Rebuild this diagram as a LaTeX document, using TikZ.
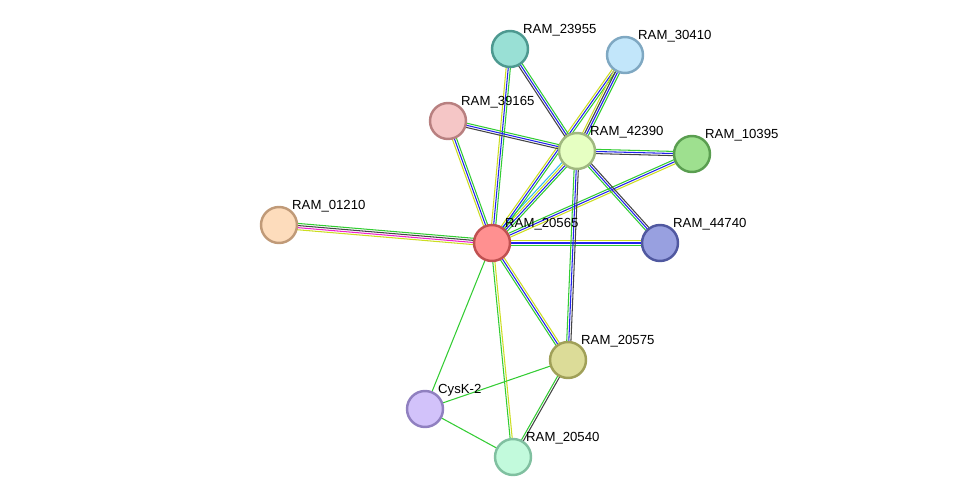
\documentclass[tikz,border=0pt]{standalone}
\usepackage{fontspec}
\setmainfont{Liberation Sans}
\usetikzlibrary{calc,backgrounds}

\definecolor{eGreen}{HTML}{33CC33}
\definecolor{eBlue}{HTML}{2222EE}
\definecolor{eYellow}{HTML}{CCDD22}
\definecolor{eBlack}{HTML}{444444}
\definecolor{eMagenta}{HTML}{EE22CC}
\definecolor{eCyan}{HTML}{33BBEE}
% node fills and borders
\definecolor{f23955}{HTML}{99E0D5}\definecolor{d23955}{HTML}{4D9990}
\definecolor{f30410}{HTML}{C2E6FA}\definecolor{d30410}{HTML}{7FA8C2}
\definecolor{f39165}{HTML}{F5C6C6}\definecolor{d39165}{HTML}{B88080}
\definecolor{f42390}{HTML}{E6FFC2}\definecolor{d42390}{HTML}{A0B880}
\definecolor{f10395}{HTML}{9EE08F}\definecolor{d10395}{HTML}{5A9E50}
\definecolor{f01210}{HTML}{FDDCBC}\definecolor{d01210}{HTML}{C09A78}
\definecolor{f20565}{HTML}{FF9090}\definecolor{d20565}{HTML}{C05050}
\definecolor{f44740}{HTML}{98A0E0}\definecolor{d44740}{HTML}{5058A0}
\definecolor{f20575}{HTML}{DCDC98}\definecolor{d20575}{HTML}{A0A058}
\definecolor{fcysk}{HTML}{D2C2FA}\definecolor{dcysk}{HTML}{9080C0}
\definecolor{f20540}{HTML}{C2FADC}\definecolor{d20540}{HTML}{80C0A0}

\tikzset{
  prot/.style={circle, draw=d#1, fill=f#1, line width=1.4pt, minimum size=0.72cm, inner sep=0pt},
  lbl/.style={font=\fontsize{7.5}{8}\selectfont, inner sep=1pt, label distance=-2pt},
}

% multi-coloured edge: \pedge{from}{to}{colour list}
\newcommand{\pedge}[3]{%
  \foreach \c [count=\n] in {#3} {\xdef\ncol{\n}}%
  \foreach \c [count=\i] in {#3} {%
    \pgfmathsetmacro{\off}{(\i-(\ncol+1)/2)*1.2}%
    \draw[\c, line width=0.6pt] ($(#1)!\off pt!90:(#2)$) -- ($(#2)!\off pt!-90:(#1)$);
  }%
}

\begin{document}
\begin{tikzpicture}[x=0.02cm, y=-0.02cm]
  \useasboundingbox (0,0) rectangle (976,503);
  % nodes
  \node[prot=23955, label={[lbl]45:RAM\_23955}] (n23955) at (510,49) {};
  \node[prot=30410, label={[lbl]45:RAM\_30410}] (n30410) at (625,55) {};
  \node[prot=39165, label={[lbl]45:RAM\_39165}] (n39165) at (448,121) {};
  \node[prot=42390, label={[lbl]45:RAM\_42390}] (n42390) at (577,151) {};
  \node[prot=10395, label={[lbl]45:RAM\_10395}] (n10395) at (692,154) {};
  \node[prot=01210, label={[lbl]45:RAM\_01210}] (n01210) at (279,225) {};
  \node[prot=20565, label={[lbl]45:RAM\_20565}] (n20565) at (492,243) {};
  \node[prot=44740, label={[lbl]45:RAM\_44740}] (n44740) at (660,243) {};
  \node[prot=20575, label={[lbl]45:RAM\_20575}] (n20575) at (568,360) {};
  \node[prot=cysk, label={[lbl]45:CysK-2}] (ncysk) at (425,409) {};
  \node[prot=20540, label={[lbl]45:RAM\_20540}] (n20540) at (513,457) {};
  % edges
  \begin{scope}[on background layer]
    \pedge{n20565}{n01210}{eGreen,eBlack,eMagenta,eYellow}
    \pedge{n20565}{n23955}{eGreen,eBlue,eYellow}
    \pedge{n20565}{n39165}{eGreen,eBlue,eYellow}
    \pedge{n20565}{n42390}{eGreen,eBlue,eYellow,eCyan}
    \pedge{n20565}{n30410}{eGreen,eBlue,eYellow}
    \pedge{n20565}{n10395}{eYellow,eBlue,eGreen}
    \pedge{n20565}{n44740}{eGreen,eBlue,eYellow}
    \pedge{n20565}{n20575}{eGreen,eBlue,eYellow}
    \pedge{n20565}{n20540}{eGreen,eYellow}
    \pedge{n20565}{ncysk}{eGreen}
    \pedge{n42390}{n23955}{eGreen,eBlue,eBlack}
    \pedge{n42390}{n30410}{eGreen,eBlue,eBlack,eYellow}
    \pedge{n42390}{n39165}{eGreen,eBlue,eBlack}
    \pedge{n42390}{n10395}{eBlack,eBlue,eGreen}
    \pedge{n42390}{n44740}{eGreen,eBlue,eBlack}
    \pedge{n42390}{n20575}{eGreen,eBlue,eBlack}
    \pedge{n20575}{ncysk}{eGreen}
    \pedge{n20575}{n20540}{eGreen,eBlack}
    \pedge{ncysk}{n20540}{eGreen}
  \end{scope}
\end{tikzpicture}
\end{document}
